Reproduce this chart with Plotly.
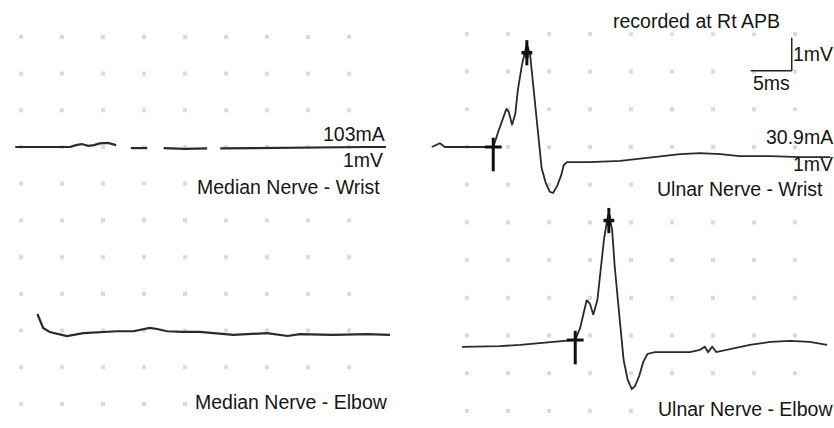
import plotly.graph_objects as go

# ---------------- data (time in ms, amplitude in mV, relative to each trace baseline) ----------
MED_WRIST_T = [1.8, 3.6, 6.0, 8.5, 9.2, 9.9, 10.7, 11.4, 12.1, 13.1, 14.1, None,
               15.9, 17.9, None, 19.9, 22.5, 25.2, None, 26.8, 30.4, 34.1, 37.7, 41.4, 44.5, 47.0]
MED_WRIST_V = [0, 0, 0, 0, 0.05, 0.08, 0.03, 0.05, 0.10, 0.11, 0.05, None,
               -0.03, -0.03, None, -0.03, -0.05, -0.04, None, -0.04, -0.03, -0.01, 0, 0, 0, 0]

MED_ELBOW_T = [4.5, 4.8, 5.2, 6.0, 7.0, 8.1, 10.1, 12.1, 14.2, 16.2, 17.3, 18.2, 19.1, 20.3,
               22.3, 24.3, 28.4, 32.5, 35.0, 36.5, 40.5, 44.7, 47.5]
MED_ELBOW_V = [0.52, 0.35, 0.14, 0.03, -0.03, -0.08, 0, 0.03, 0.05, 0.05, 0.11, 0.14, 0.11, 0.05,
               0.03, 0.03, -0.05, 0, -0.08, -0.03, -0.05, -0.03, -0.05]

ULN_WRIST_T = [0.7, 1.2, 1.7, 2.3, 4.1, 6.6, 8.2, 8.8, 9.4, 9.8, 10.1, 10.5, 10.9, 11.2, 11.7,
               12.1, 12.3, 12.7, 13.0, 13.4, 13.8, 14.1, 14.6, 15.1, 15.5, 16.0, 16.5, 16.8,
               17.2, 20.0, 23.7, 27.3, 31.0, 33.4, 35.9, 38.3, 42.0, 45.6, 49.3]
ULN_WRIST_V = [0, 0.05, 0.10, 0, 0, 0, 0, 0.40, 0.80, 1.01, 0.93, 0.58, 0.90, 1.51, 2.18,
               2.57, 2.73, 2.44, 1.83, 0.98, 0.05, -0.56, -0.95, -1.19, -1.22, -1.03, -0.74, -0.48,
               -0.40, -0.40, -0.37, -0.29, -0.19, -0.16, -0.19, -0.24, -0.24, -0.27, -0.27]

ULN_ELBOW_T = [4.4, 6.6, 9.0, 11.5, 13.9, 16.3, 18.2, 18.8, 19.3, 19.6, 20.0, 20.4, 20.9, 21.2,
               21.7, 22.1, 22.3, 22.7, 23.0, 23.4, 23.8, 24.1, 24.6, 25.1, 25.5, 26.0, 26.5,
               27.0, 27.9, 29.8, 32.2, 33.4, 34.0, 34.4, 34.9, 35.4, 37.1, 39.5, 42.0, 44.4,
               46.8, 48.9]
ULN_ELBOW_V = [-0.05, -0.05, -0.03, 0, 0.05, 0.11, 0.13, 0.45, 0.88, 1.19, 1.09, 0.80, 1.19, 1.86,
               2.79, 3.32, 3.47, 3.05, 2.12, 1.19, 0.27, -0.40, -0.93, -1.17, -1.09, -0.82, -0.45,
               -0.24, -0.19, -0.19, -0.19, -0.13, -0.05, -0.19, -0.05, -0.19, -0.11, 0, 0.08, 0.11,
               0.08, 0]

# onset / peak cursors (ms, mV)
ULN_WRIST_ONSET = (8.2, 0.0)
ULN_WRIST_PEAK = (12.3, 2.5)
ULN_ELBOW_ONSET = (18.2, 0.13)
ULN_ELBOW_PEAK = (22.3, 3.3)

# labels
STIM_LEFT = "103mA"
STIM_RIGHT = "30.9mA"
GAIN = "1mV"
LABELS = ["Median Nerve - Wrist", "Median Nerve - Elbow", "Ulnar Nerve - Wrist", "Ulnar Nerve - Elbow"]
TITLE = "recorded at Rt APB"
SCALE_T_LABEL = "5ms"
SCALE_V_LABEL = "1mV"
SCALE_T = 5.0
SCALE_V = 1.0

# grid divisions (5 ms x 1 mV)
GRID_T_LEFT = [2.5, 7.5, 12.5, 17.5, 22.5, 27.5, 32.5, 37.5, 42.5]
GRID_T_RIGHT = [5, 10, 15, 20, 25, 30, 35, 40, 45]
GRID_V = [3, 2, 1, 0, -1, -2, -3, -4, -5, -6, -7]

# ---------------- layout constants ----------------
W, H = 834, 428
LEFT_ELBOW_OFFSET = -5.07
RIGHT_ELBOW_OFFSET = -5.25
TRACE_COLOR = "#2a2a2a"
TEXT_COLOR = "#151515"
FONT = "Liberation Sans, Arial, Helvetica, sans-serif"
FS = 19.5


def off(vals, o):
    return [None if v is None else v + o for v in vals]


fig = go.Figure()

# grid dots
for xa, ya, gt in (("x", "y", GRID_T_LEFT), ("x2", "y2", GRID_T_RIGHT)):
    gx = [t for v in GRID_V for t in gt]
    gy = [v for v in GRID_V for t in gt]
    fig.add_trace(go.Scatter(x=gx, y=gy, xaxis=xa, yaxis=ya, mode="markers",
                             marker=dict(symbol="square", size=4, color="#dadada"),
                             hoverinfo="skip", showlegend=False))

line_med = dict(color=TRACE_COLOR, width=2.2)
line_uln = dict(color=TRACE_COLOR, width=1.8)
fig.add_trace(go.Scatter(x=MED_WRIST_T, y=MED_WRIST_V, mode="lines", line=line_med,
                         xaxis="x", yaxis="y", showlegend=False, connectgaps=False))
fig.add_trace(go.Scatter(x=MED_ELBOW_T, y=off(MED_ELBOW_V, LEFT_ELBOW_OFFSET), mode="lines",
                         line=line_med, xaxis="x", yaxis="y", showlegend=False))
fig.add_trace(go.Scatter(x=ULN_WRIST_T, y=ULN_WRIST_V, mode="lines", line=line_uln,
                         xaxis="x2", yaxis="y2", showlegend=False))
fig.add_trace(go.Scatter(x=ULN_ELBOW_T, y=off(ULN_ELBOW_V, RIGHT_ELBOW_OFFSET), mode="lines",
                         line=line_uln, xaxis="x2", yaxis="y2", showlegend=False))

# cursors
on_t = [ULN_WRIST_ONSET[0], ULN_ELBOW_ONSET[0]]
on_v = [ULN_WRIST_ONSET[1], ULN_ELBOW_ONSET[1] + RIGHT_ELBOW_OFFSET]
pk_t = [ULN_WRIST_PEAK[0], ULN_ELBOW_PEAK[0]]
pk_v = [ULN_WRIST_PEAK[1], ULN_ELBOW_PEAK[1] + RIGHT_ELBOW_OFFSET]
fig.add_trace(go.Scatter(x=on_t, y=[v - 0.2 for v in on_v], xaxis="x2", yaxis="y2", mode="markers",
                         marker=dict(symbol="line-ns", size=24, line=dict(width=3, color="#111")),
                         showlegend=False))
fig.add_trace(go.Scatter(x=on_t, y=on_v, xaxis="x2", yaxis="y2", mode="markers",
                         marker=dict(symbol="line-ew", size=12, line=dict(width=3, color="#111")),
                         showlegend=False))
fig.add_trace(go.Scatter(x=pk_t, y=pk_v, xaxis="x2", yaxis="y2", mode="markers",
                         marker=dict(symbol="line-ns", size=18, line=dict(width=3, color="#111")),
                         showlegend=False))
fig.add_trace(go.Scatter(x=pk_t, y=pk_v, xaxis="x2", yaxis="y2", mode="markers",
                         marker=dict(symbol="cross", size=9, color="#111"),
                         showlegend=False))

# scale bar (right column)
SB_T0, SB_V0 = 39.6, 2.02
fig.add_shape(type="line", xref="x2", yref="y2", x0=SB_T0, x1=SB_T0 + SCALE_T, y0=SB_V0, y1=SB_V0,
              line=dict(color="#222", width=1.5))
fig.add_shape(type="line", xref="x2", yref="y2", x0=SB_T0 + SCALE_T, x1=SB_T0 + SCALE_T,
              y0=SB_V0, y1=SB_V0 + SCALE_V * 0.88, line=dict(color="#222", width=1.5))


def px(x):
    return x / W


def py(y):
    return 1 - y / H


def ann(text, x, y, xanchor, bg=None, size=FS):
    fig.add_annotation(text=text, x=px(x), y=py(y), xref="paper", yref="paper",
                       xanchor=xanchor, yanchor="middle", showarrow=False,
                       font=dict(family=FONT, size=size, color=TEXT_COLOR),
                       bgcolor=bg, borderpad=0)


ann(STIM_LEFT, 386, 134, "right")
ann(GAIN, 384, 160, "right")
ann(LABELS[0], 381, 187, "right", bg="white")
ann(LABELS[1], 389, 402, "right", bg="white")
ann(TITLE, 612, 21, "left", bg="white")
ann(SCALE_V_LABEL, 834, 54, "right")
ann(SCALE_T_LABEL, 752, 83, "left")
ann(STIM_RIGHT, 834, 137, "right")
ann(GAIN, 834, 164, "right")
ann(LABELS[2], 824, 189, "right", bg="white")
ann(LABELS[3], 834, 409, "right", bg="white")

ax_common = dict(visible=False, showgrid=False, zeroline=False, fixedrange=True)
fig.update_layout(
    width=W, height=H,
    margin=dict(l=0, r=0, t=0, b=0),
    paper_bgcolor="white", plot_bgcolor="white",
    xaxis=dict(domain=[0, 410 / W], range=[-0.5 / 8.2, 409.5 / 8.2], **ax_common),
    yaxis=dict(domain=[0, 1], range=[-(H - 147) / 36.7, 147 / 36.7], **ax_common),
    xaxis2=dict(domain=[424 / W, 1], range=[-2 / 8.2, 408 / 8.2], anchor="y2", **ax_common),
    yaxis2=dict(domain=[0, 1], range=[-(H - 147) / 37.7, 147 / 37.7], anchor="x2", **ax_common),
    showlegend=False,
)

fig.write_html("out.html", config={"displayModeBar": False},
               post_script="document.body.style.margin='0';document.body.style.overflow='hidden';")
